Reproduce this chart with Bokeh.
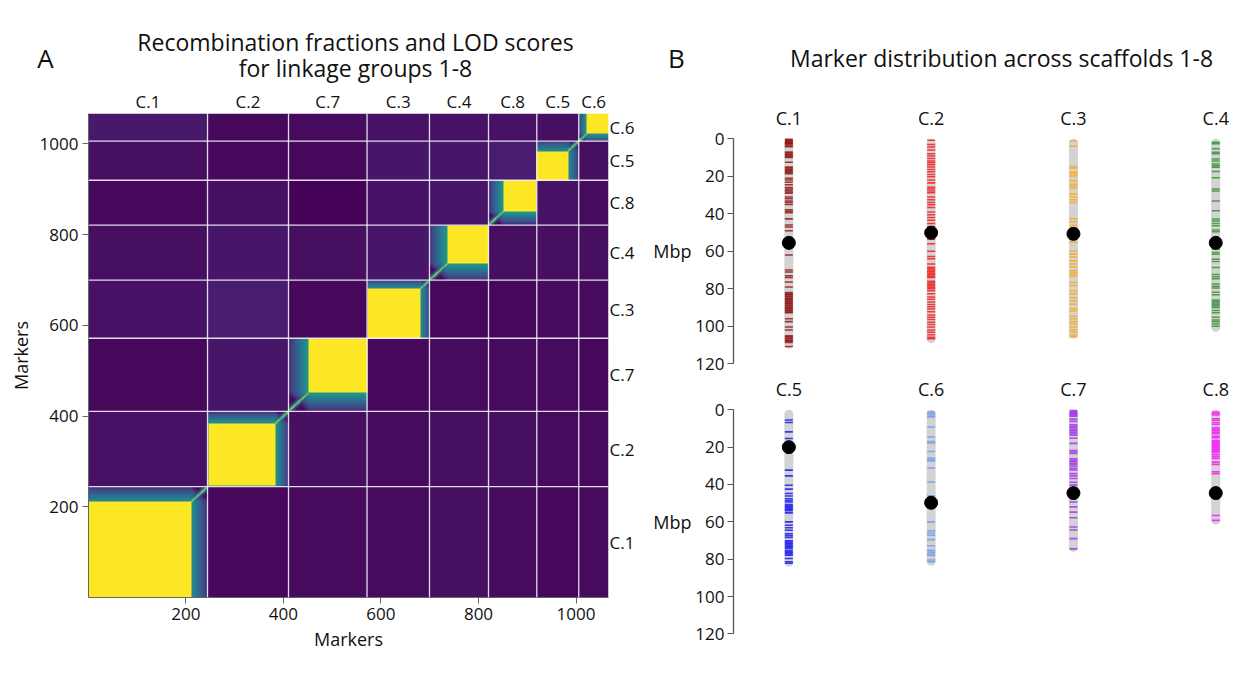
import numpy as np
from bokeh.plotting import figure
from bokeh.models import Range1d, LinearAxis, FixedTicker, LinearColorMapper, Span
from bokeh.layouts import row, column
from bokeh.palettes import Viridis256
from bokeh.embed import file_html
from bokeh.resources import INLINE
from bokeh.core.properties import value

FONT = "Open Sans"
TXT = "#111111"

# ---------------- Panel A data ----------------
groups_A = ["C.1", "C.2", "C.7", "C.3", "C.4", "C.8", "C.5", "C.6"]
sizes_A = [244, 166, 161, 128, 121, 99, 86, 61]
core_lo = [0, 3, 42, 0, 37, 30, 0, 16]          # start of yellow core (local marker index)
core_hi = [211, 140, 161, 110, 121, 99, 64, 61]  # end of yellow core (local, exclusive)
fringe_peak = [0.50, 0.52, 0.55, 0.50, 0.55, 0.55, 0.50, 0.55]
fringe_len = [40, 32, 48, 26, 45, 34, 30, 22]
# off-diagonal block levels: rows = y group, cols = x group (order of groups_A)
offdiag = [
    [0.00, 0.02, 0.03, 0.03, 0.04, 0.03, 0.02, 0.03],
    [0.05, 0.00, 0.04, 0.03, 0.04, 0.04, 0.03, 0.03],
    [0.02, 0.06, 0.00, 0.02, 0.03, 0.03, 0.03, 0.02],
    [0.05, 0.08, 0.02, 0.00, 0.02, 0.02, 0.03, 0.03],
    [0.04, 0.06, 0.04, 0.06, 0.00, 0.04, 0.04, 0.04],
    [0.02, 0.04, 0.01, 0.05, 0.06, 0.00, 0.05, 0.03],
    [0.04, 0.02, 0.02, 0.06, 0.06, 0.08, 0.00, 0.04],
    [0.07, 0.02, 0.03, 0.05, 0.05, 0.05, 0.04, 0.00],
]
ticks_A = [200, 400, 600, 800, 1000]

# ---------------- Panel B data ----------------
chroms = ["C.1", "C.2", "C.3", "C.4", "C.5", "C.6", "C.7", "C.8"]
chrom_len = [112.0, 109.0, 106.5, 103.0, 84.0, 83.5, 76.0, 61.5]
centromere = [55.5, 50.1, 50.7, 55.5, 20.0, 49.8, 44.6, 44.6]
chrom_color = ["#8B0000", "#FF0000", "#FFA500", "#228B22",
               "#0000FF", "#6495ED", "#A020F0", "#FF00FF"]
ticks_B = [0, 20, 40, 60, 80, 100, 120]

markers_C1 = [0.3, 0.8, 1.3, 1.8, 2.3, 2.8, 3.5, 4.2, 7.0, 7.6, 8.2, 8.8, 9.4, 10.0, 12.5,
              15.0, 15.6, 16.2, 16.8, 17.4, 18.0, 18.6, 21.0, 22.0, 23.2, 24.5, 26.0, 26.8,
              27.6, 28.4, 29.0, 31.0, 32.0, 33.2, 34.0, 35.0, 37.8, 38.6, 39.4, 42.7, 46.0,
              47.0, 49.0, 62.0, 70.0, 71.0, 73.0, 74.0, 76.4, 79.0, 82.0, 82.6, 83.2, 83.8,
              84.4, 85.0, 85.6, 86.2, 86.8, 87.4, 88.0, 88.6, 89.2, 89.8, 90.4, 91.0, 91.6,
              92.2, 92.8, 96.0, 97.5, 100.4, 102.0, 105.0, 105.6, 106.2, 106.8, 107.4, 108.0,
              108.6, 110.8]
markers_C2 = [0.8, 3.0, 4.4, 6.0, 8.0, 9.2, 10.5, 11.8, 12.8, 13.8, 15.0, 16.4, 17.6, 19.0,
              20.2, 22.0, 23.5, 25.8, 26.8, 27.8, 28.8, 31.0, 32.5, 34.0, 35.2, 36.6, 39.0,
              40.5, 42.0, 43.4, 45.2, 46.8, 48.0, 53.5, 56.0, 60.0, 62.8, 64.0, 66.8, 68.5,
              69.3, 70.1, 70.9, 71.7, 72.5, 73.3, 74.0, 76.0, 76.8, 77.6, 78.4, 79.2, 80.0,
              81.0, 82.6, 84.4, 85.6, 87.0, 88.4, 89.6, 90.8, 92.2, 94.0, 95.2, 96.4, 97.8,
              99.0, 100.4, 102.0, 103.2, 104.5, 105.8, 106.6]
markers_C3 = [1.2, 4.0, 14.8, 15.6, 17.8, 18.8, 19.8, 22.5, 24.2, 25.2, 26.4, 29.5, 31.0,
              32.5, 34.0, 42.7, 44.2, 46.2, 47.4, 53.5, 55.2, 59.8, 61.5, 63.0, 65.0, 66.8,
              68.4, 70.2, 71.2, 72.2, 73.2, 76.6, 78.2, 81.2, 82.6, 84.8, 86.4, 88.2, 90.6,
              91.8, 94.6, 96.0, 97.6, 98.8, 100.4, 101.8, 103.2, 104.6, 105.6]
markers_C4 = [1.8, 2.6, 5.3, 7.2, 8.0, 10.8, 11.8, 13.4, 14.4, 15.2, 17.4, 20.8, 26.8, 27.8,
              33.2, 38.4, 42.8, 43.8, 45.2, 46.4, 48.6, 49.6, 58.8, 60.6, 61.6, 64.2, 65.4,
              68.6, 72.4, 73.6, 74.6, 77.4, 78.6, 79.6, 81.8, 83.2, 86.0, 86.8, 87.6, 88.4,
              89.2, 90.0, 91.6, 92.8, 95.2, 96.6, 97.6, 98.8, 100.0]
markers_C5 = [5.5, 6.8, 11.8, 15.4, 32.3, 35.4, 40.4, 42.5, 44.8, 46.2, 47.6, 48.6, 49.4,
              50.8, 51.6, 52.4, 53.2, 54.0, 55.2, 60.0, 61.8, 63.2, 64.5, 66.4, 67.4, 68.4,
              70.2, 71.0, 71.8, 72.6, 73.4, 74.2, 75.4, 76.2, 77.0, 77.8, 79.6, 81.4, 82.2]
markers_C6 = [1.2, 2.0, 2.8, 3.8, 9.2, 14.6, 17.0, 17.8, 22.3, 25.8, 26.6, 27.4, 31.2, 38.7,
              46.0, 46.8, 60.0, 64.8, 66.0, 67.2, 69.5, 72.8, 75.2, 76.2, 77.2, 78.0, 80.4,
              81.4]
markers_C7 = [0.4, 1.0, 1.6, 2.2, 2.8, 3.4, 5.0, 6.2, 8.0, 8.8, 9.6, 10.4, 11.2, 12.0, 12.8,
              13.6, 15.2, 18.0, 21.8, 22.6, 23.4, 26.2, 27.0, 27.8, 28.6, 29.4, 30.4, 31.4,
              32.2, 34.2, 35.4, 36.8, 38.8, 40.2, 49.4, 52.0, 54.8, 57.8, 62.8, 64.4, 69.0,
              74.5]
markers_C8 = [1.2, 2.0, 2.8, 4.8, 5.6, 6.8, 7.8, 9.6, 10.4, 11.2, 12.0, 12.8, 14.2, 15.0,
              16.4, 17.2, 18.0, 18.8, 19.6, 20.4, 21.2, 22.0, 22.8, 24.0, 25.0, 26.0, 28.0,
              29.2, 33.2, 34.2, 56.6, 59.2]
marker_lists = [markers_C1, markers_C2, markers_C3, markers_C4,
                markers_C5, markers_C6, markers_C7, markers_C8]

# ---------------- Build heatmap matrix ----------------
N = int(sum(sizes_A))
gidx = np.repeat(np.arange(len(sizes_A)), sizes_A)
starts = np.concatenate([[0], np.cumsum(sizes_A)[:-1]])
loc = np.arange(N) - starts[gidx]
lo = np.array(core_lo)[gidx]
hi = np.array(core_hi)[gidx]
dout = np.maximum(np.maximum(lo - loc, loc - (hi - 1)), 0).astype(float)
same = gidx[:, None] == gidx[None, :]
core = (dout[:, None] == 0) & (dout[None, :] == 0)
flen = np.array(fringe_len, dtype=float)[gidx][:, None]
fr = np.array(fringe_peak)[gidx][:, None] * np.clip(
    1.0 - (dout[:, None] + dout[None, :]) / flen, 0.0, 1.0) ** 0.8
band = np.exp(-np.abs(loc[:, None] - loc[None, :]) / 4.0)
inner = np.maximum(np.maximum(np.where(core, 1.0, 0.02), fr), band)
M = np.where(same, inner, np.array(offdiag)[gidx[:, None], gidx[None, :]]).astype(np.float32)

# ---------------- Header ----------------
HEAD_H = 84
pH = figure(width=1246, height=HEAD_H, x_range=Range1d(0, 1246), y_range=Range1d(HEAD_H, 0),
            output_backend="svg", toolbar_location=None, x_axis_location=None,
            y_axis_location=None, min_border=0, outline_line_color=None)
pH.grid.visible = False
pH.text(x=[45, 676], y=[57, 57], text=["A", "B"], text_align="center", text_baseline="middle",
        text_font=value(FONT), text_font_size="26px", text_color=TXT)
pH.text(x=[355, 355], y=[41, 67],
        text=["Recombination fractions and LOD scores", "for linkage groups 1-8"],
        text_align="center", text_baseline="middle", text_font=value(FONT),
        text_font_size="23px", text_color=TXT)
pH.text(x=[1001], y=[57], text=["Marker distribution across scaffolds 1-8"],
        text_align="center", text_baseline="middle", text_font=value(FONT),
        text_font_size="23px", text_color=TXT)

# ---------------- Panel A ----------------
pA = figure(width=648, height=678 - HEAD_H, x_range=Range1d(0.5, N + 0.5),
            y_range=Range1d(0.5, N + 0.5),
            output_backend="svg", toolbar_location=None, min_border_left=88,
            min_border_right=40, min_border_top=113 - HEAD_H, min_border_bottom=81,
            outline_line_color=None)
pA.grid.visible = False
mapper = LinearColorMapper(palette=Viridis256, low=0.0, high=1.0)
pA.image(image=[M], x=0.5, y=0.5, dw=N, dh=N, color_mapper=mapper)
for b in np.cumsum(sizes_A)[:-1]:
    for dim in ("height", "width"):
        pA.add_layout(Span(location=float(b) + 0.5, dimension=dim, line_color="white",
                           line_alpha=0.85, line_width=1.3))
for ax in (pA.xaxis[0], pA.yaxis[0]):
    ax.ticker = FixedTicker(ticks=ticks_A)
    ax.axis_label = "Markers"
    ax.axis_label_text_font = FONT
    ax.axis_label_text_font_style = "normal"
    ax.axis_label_text_font_size = "18px"
    ax.axis_label_text_color = TXT
    ax.axis_label_standoff = 4
    ax.major_label_text_font = FONT
    ax.major_label_text_font_size = "17px"
    ax.major_label_text_color = TXT
    ax.major_label_standoff = 4
    ax.major_tick_out = 6
    ax.major_tick_in = 0
    ax.minor_tick_line_color = None
    ax.axis_line_color = "#666666"
    ax.major_tick_line_color = "#666666"
pA.yaxis[0].major_label_orientation = "horizontal"

centers = [float(starts[i] + sizes_A[i] / 2.0 + 0.5) for i in range(len(sizes_A))]
for side in ("above", "right"):
    gax = LinearAxis(ticker=FixedTicker(ticks=centers),
                     major_label_overrides={c: g for c, g in zip(centers, groups_A)},
                     axis_line_color=None, major_tick_line_color=None,
                     minor_tick_line_color=None, major_tick_out=0, major_tick_in=0,
                     minor_tick_out=0, minor_tick_in=0, major_label_standoff=1,
                     major_label_text_font=FONT, major_label_text_font_size="17px",
                     major_label_text_color=TXT)
    pA.add_layout(gax, side)

# ---------------- Panel B ----------------
def chrom_fig(idx, height, mb_top, mb_bottom, y_top, y_bottom):
    p = figure(width=598, height=height, x_range=Range1d(-0.389, 3.174),
               y_range=Range1d(y_bottom, y_top), output_backend="svg", toolbar_location=None,
               x_axis_location=None, min_border_left=85, min_border_right=6,
               min_border_top=mb_top, min_border_bottom=mb_bottom, outline_line_color=None)
    p.grid.visible = False
    ax = p.yaxis[0]
    ax.ticker = FixedTicker(ticks=ticks_B)
    ax.bounds = (0, 120)
    ax.major_label_text_font = FONT
    ax.major_label_text_font_size = "17px"
    ax.major_label_text_color = TXT
    ax.major_label_standoff = 3
    ax.major_tick_out = 6
    ax.major_tick_in = 0
    ax.minor_tick_line_color = None
    ax.axis_line_color = "#555555"
    ax.major_tick_line_color = "#555555"
    ax.axis_line_width = 1.3
    # "Mbp" label, stacked outside the tick labels at the 60 Mbp level
    lab = LinearAxis(ticker=FixedTicker(ticks=[60]), major_label_overrides={60: "Mbp"},
                     axis_line_color=None, major_tick_line_color=None,
                     minor_tick_line_color=None, major_tick_out=0, major_tick_in=0,
                     minor_tick_out=0, minor_tick_in=0, major_label_standoff=1,
                     major_label_text_font=FONT, major_label_text_font_size="18px",
                     major_label_text_color=TXT)
    p.add_layout(lab, "left")
    for k, ci in enumerate(idx):
        L = chrom_len[ci]
        p.segment(x0=[k], y0=[2.4], x1=[k], y1=[L - 2.4], line_width=9,
                  line_color="#d3d3d3", line_cap="round")
        ms = marker_lists[ci]
        p.rect(x=[k] * len(ms), y=ms, width=8, width_units="screen", height=1.6,
               height_units="screen", fill_color=chrom_color[ci], fill_alpha=0.75,
               line_color=None)
        p.scatter(x=[k], y=[centromere[ci]], size=13, marker="circle", color="black")
        p.text(x=[k], y=[-11], text=[chroms[ci]], text_align="center",
               text_baseline="middle", text_font=value(FONT), text_font_size="18px",
               text_color=TXT)
    return p

# upper row: frame page y 100..368 ; lower row: frame page y 377..650
top1 = 376 - HEAD_H
pB1 = chrom_fig([0, 1, 2, 3], top1, 100 - HEAD_H, 8, -20.43, 122.5)
pB2 = chrom_fig([4, 5, 6, 7], 302, 1, 28, -17.3, 128.9)

layout = column(pH, row(pA, column(pB1, pB2)))
open("out.html", "w").write(file_html(layout, INLINE))
